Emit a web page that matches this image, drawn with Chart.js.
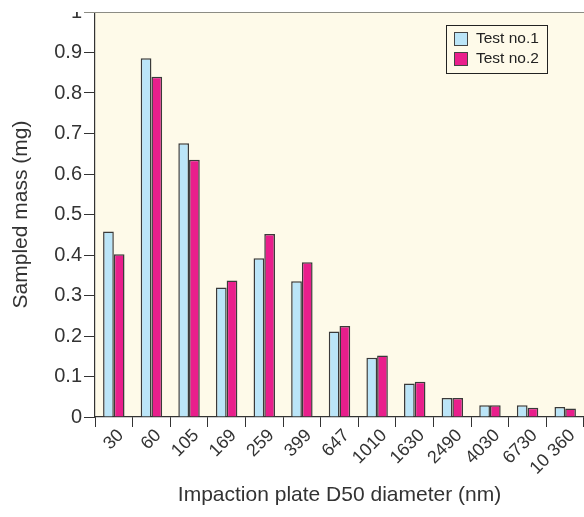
<!DOCTYPE html>
<html>
<head>
<meta charset="utf-8">
<script src="https://cdn.jsdelivr.net/npm/chart.js@4"></script>
<style>
  html, body { margin: 0; padding: 0; background: #fff; }
  #wrap { width: 584px; height: 517px; overflow: hidden; }
</style>
</head>
<body>
<div id="wrap"><canvas id="massChart" width="584" height="517"></canvas></div>
<script>
const diameters = ["30", "60", "105", "169", "259", "399", "647", "1010", "1630", "2490", "4030", "6730", "10 360"];
const test1 = [0.458, 0.886, 0.676, 0.320, 0.392, 0.335, 0.211, 0.146, 0.083, 0.047, 0.029, 0.029, 0.025];
const test2 = [0.402, 0.840, 0.635, 0.337, 0.452, 0.382, 0.225, 0.152, 0.087, 0.047, 0.029, 0.023, 0.021];
const yTicks = [0, 0.1, 0.2, 0.3, 0.4, 0.5, 0.6, 0.7, 0.8, 0.9, 1];

const FONT = "'Liberation Sans', Arial, sans-serif";
const INK = "#333333";

// cream plot background, white cut above the plot, top rule and boxed legend
const plotDecor = {
  id: "plotDecor",
  beforeDraw(chart) {
    const a = chart.chartArea;
    const c = chart.ctx;
    c.save();
    c.fillStyle = "#fefae9";
    c.fillRect(a.left, a.top, a.right - a.left, a.bottom - a.top);
    c.restore();
  },
  afterDraw(chart) {
    const a = chart.chartArea;
    const c = chart.ctx;
    c.save();
    c.fillStyle = "#ffffff";
    c.fillRect(0, 0, chart.width, a.top);
    c.strokeStyle = "#8c8c84";
    c.lineWidth = 1;
    c.beginPath();
    c.moveTo(a.left - 11, a.top + 0.5);
    c.lineTo(chart.width, a.top + 0.5);
    c.stroke();

    // legend box
    const bx = a.right - 138, by = a.top + 13, bw = 101, bh = 48;
    c.fillStyle = "#fefae9";
    c.fillRect(bx, by, bw, bh);
    c.strokeStyle = "#222";
    c.lineWidth = 1;
    c.strokeRect(bx + 0.5, by + 0.5, bw, bh);
    c.font = "15.5px " + FONT;
    c.textBaseline = "middle";
    chart.data.datasets.forEach((ds, i) => {
      const sy = by + 7 + i * 20;
      c.fillStyle = ds.backgroundColor;
      c.fillRect(bx + 8, sy, 13, 13);
      c.strokeStyle = "#444";
      c.strokeRect(bx + 8.5, sy + 0.5, 13, 13);
      c.fillStyle = "#222";
      c.fillText(ds.label, bx + 30, sy + 7);
    });
    c.restore();
  }
};

new Chart(document.getElementById("massChart"), {
  type: "bar",
  data: {
    labels: diameters,
    datasets: [
      {
        label: "Test no.1",
        data: test1,
        backgroundColor: "#bbe5f8",
        borderColor: "#3a3a3a",
        borderWidth: 1.5,
        borderSkipped: "bottom",
        categoryPercentage: 0.57,
        barPercentage: 1.0,
      },
      {
        label: "Test no.2",
        data: test2,
        backgroundColor: "#e91e8c",
        borderColor: "#3a3a3a",
        borderWidth: 1.5,
        borderSkipped: "bottom",
        categoryPercentage: 0.57,
        barPercentage: 1.0,
      },
    ],
  },
  options: {
    responsive: false,
    animation: false,
    layout: { padding: { top: 12, right: 0, left: 0, bottom: 0 } },
    plugins: {
      legend: { display: false },
      tooltip: { enabled: false },
    },
    scales: {
      x: {
        grid: {
          offset: true,
          drawOnChartArea: false,
          drawTicks: true,
          tickLength: 10,
          tickColor: INK,
        },
        border: { color: INK, width: 1.2 },
        ticks: {
          color: INK,
          font: { family: FONT, size: 18 },
          minRotation: 45,
          maxRotation: 45,
          padding: -2,
          labelOffset: 7,
          autoSkip: false,
        },
        title: {
          display: true,
          text: "Impaction plate D50 diameter (nm)",
          color: INK,
          font: { family: FONT, size: 21 },
          padding: { top: 4, bottom: 9 },
        },
        afterFit(scale) {
          scale.height = 100;
          scale.paddingLeft = 0;
          scale.paddingRight = 0;
        },
      },
      y: {
        min: 0,
        max: 1,
        afterBuildTicks(scale) {
          scale.ticks = yTicks.map((v) => ({ value: v }));
        },
        grid: {
          drawOnChartArea: false,
          drawTicks: true,
          tickLength: 11,
          tickColor: INK,
        },
        border: { color: INK, width: 1.2 },
        ticks: {
          color: INK,
          font: { family: FONT, size: 20 },
          padding: 2,
          callback: (value) => String(value),
        },
        title: {
          display: true,
          text: "Sampled mass (mg)",
          color: INK,
          font: { family: FONT, size: 21 },
          padding: { top: 9, bottom: 0 },
        },
        afterFit(scale) {
          scale.width = 95;
          scale.paddingTop = 0;
          scale.paddingBottom = 0;
        },
      },
    },
  },
  plugins: [plotDecor],
});
</script>
</body>
</html>
